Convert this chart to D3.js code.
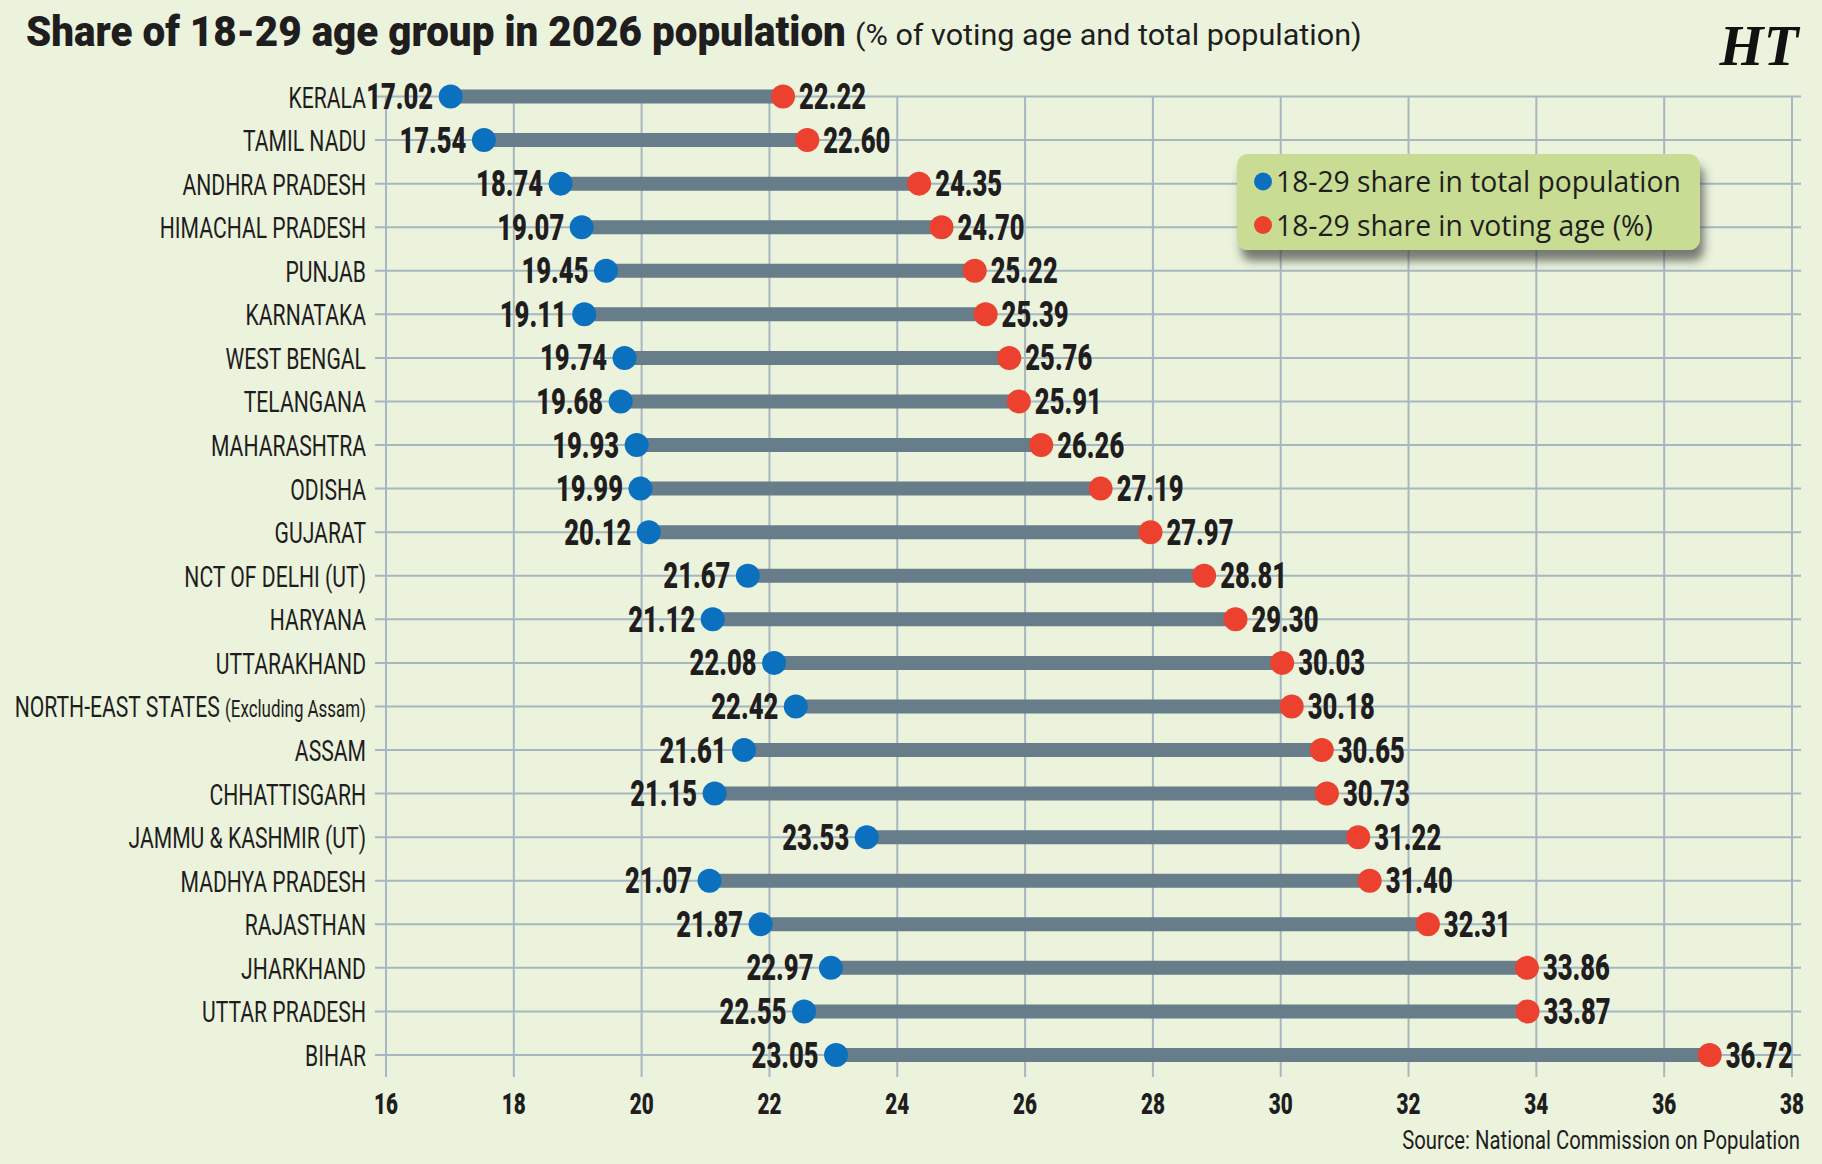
<!DOCTYPE html>
<html>
<head>
<meta charset="utf-8">
<script src="https://cdn.jsdelivr.net/npm/d3@7"></script>
<style>
  html, body { margin: 0; padding: 0; background: #ebf3dc; }
  svg { display: block; }
</style>
</head>
<body>
<svg id="chart"></svg>
<script>
// --- data ---
const states = [
    "KERALA", "TAMIL NADU", "ANDHRA PRADESH", "HIMACHAL PRADESH", "PUNJAB",
    "KARNATAKA", "WEST BENGAL", "TELANGANA", "MAHARASHTRA", "ODISHA",
    "GUJARAT", "NCT OF DELHI (UT)", "HARYANA", "UTTARAKHAND",
    "NORTH-EAST STATES (Excluding Assam)", "ASSAM", "CHHATTISGARH",
    "JAMMU & KASHMIR (UT)", "MADHYA PRADESH", "RAJASTHAN", "JHARKHAND",
    "UTTAR PRADESH", "BIHAR"
];
const totalShare = [17.02, 17.54, 18.74, 19.07, 19.45, 19.11, 19.74, 19.68, 19.93, 19.99,
    20.12, 21.67, 21.12, 22.08, 22.42, 21.61, 21.15, 23.53, 21.07, 21.87, 22.97, 22.55, 23.05];
const votingShare = [22.22, 22.60, 24.35, 24.70, 25.22, 25.39, 25.76, 25.91, 26.26, 27.19,
    27.97, 28.81, 29.30, 30.03, 30.18, 30.65, 30.73, 31.22, 31.40, 32.31, 33.86, 33.87, 36.72];
const xTicks = [16, 18, 20, 22, 24, 26, 28, 30, 32, 34, 36, 38];
const legendLabels = ["18-29 share in total population", "18-29 share in voting age (%)"];

const width = 1822;
const height = 1164;
const ink = "#1f1d1e";
const gridColor = "#a6b7c1";
const blue = "#0b71bf";
const red = "#ec412f";
const cond = "Roboto, 'Liberation Sans', sans-serif";

const svg = d3.select("#chart").attr("width", width).attr("height", height);

svg.append("rect").attr("width", width).attr("height", height).attr("fill", "#ebf3dc");

// measure a string so the condensed newspaper type can be approximated by squeezing
function textWidth(str, size, weight, family) {
    const t = svg.append("text")
        .attr("font-size", size)
        .attr("font-weight", weight)
        .attr("font-family", family)
        .text(str);
    const w = t.node().getComputedTextLength();
    t.remove();
    return w;
}

const x = d3.scaleLinear().domain([16, 38]).range([385.5, 1791.5]);
const y = d3.scalePoint().domain(states).range([96.5, 1055]);

const gridBottom = 1077;

// vertical grid + tick labels
const tickSq = 24 / textWidth("30", 29, 900, cond);
const xAxis = svg.append("g")
    .attr("transform", `translate(0,${gridBottom})`)
    .call(d3.axisBottom(x).tickValues(xTicks).tickSizeInner(-(gridBottom - y(states[0]))).tickSizeOuter(0));
xAxis.select(".domain").remove();
xAxis.selectAll("line").attr("stroke", gridColor).attr("stroke-width", 2);
xAxis.selectAll("text")
    .attr("fill", ink)
    .attr("font-family", cond)
    .attr("font-weight", 900)
    .attr("font-size", 29)
    .attr("dy", null)
    .attr("y", null)
    .attr("transform", `translate(0,36.5) scale(${tickSq},1)`);

// horizontal grid lines
svg.append("g").selectAll("line")
    .data(states)
    .join("line")
    .attr("x1", 375)
    .attr("x2", 1801)
    .attr("y1", d => y(d))
    .attr("y2", d => y(d))
    .attr("stroke", gridColor)
    .attr("stroke-width", 2);

// state labels
const stateSq = 77.5 / textWidth("KERALA", 30, 400, cond);
const labels = svg.append("g").selectAll("text")
    .data(states)
    .join("text")
    .attr("text-anchor", "end")
    .attr("font-family", cond)
    .attr("font-size", 30)
    .attr("fill", ink)
    .attr("transform", d => `translate(366,${y(d) + 11}) scale(${stateSq},1)`);
labels.each(function (d) {
    const m = d.match(/^(.*?) (\([A-Z][a-z].*\))$/);
    const t = d3.select(this);
    if (m) {
        t.append("tspan").text(m[1] + " ");
        t.append("tspan").attr("font-size", 24).text(m[2]);
    } else {
        t.text(d);
    }
});

const rows = states.map((s, i) => ({ state: s, total: totalShare[i], voting: votingShare[i] }));

// dumbbell bars
svg.append("g").selectAll("line")
    .data(rows)
    .join("line")
    .attr("x1", d => x(d.total))
    .attr("x2", d => x(d.voting))
    .attr("y1", d => y(d.state))
    .attr("y2", d => y(d.state))
    .attr("stroke", "#687d8a")
    .attr("stroke-width", 14);

const r = 12;
svg.append("g").selectAll("circle")
    .data(rows)
    .join("circle")
    .attr("cx", d => x(d.total))
    .attr("cy", d => y(d.state))
    .attr("r", r)
    .attr("fill", blue);

svg.append("g").selectAll("circle")
    .data(rows)
    .join("circle")
    .attr("cx", d => x(d.voting))
    .attr("cy", d => y(d.state))
    .attr("r", r)
    .attr("fill", red);

// value labels
const valSq = 67 / textWidth("36.72", 36, 900, cond);
svg.append("g").selectAll("text")
    .data(rows)
    .join("text")
    .attr("text-anchor", "end")
    .attr("font-family", cond)
    .attr("font-weight", 900)
    .attr("font-size", 36)
    .attr("fill", ink)
    .attr("transform", d => `translate(${x(d.total) - 17.5},${y(d.state) + 12.5}) scale(${valSq},1)`)
    .text(d => d.total.toFixed(2));

svg.append("g").selectAll("text")
    .data(rows)
    .join("text")
    .attr("text-anchor", "start")
    .attr("font-family", cond)
    .attr("font-weight", 900)
    .attr("font-size", 36)
    .attr("fill", ink)
    .attr("transform", d => `translate(${x(d.voting) + 16},${y(d.state) + 12.5}) scale(${valSq},1)`)
    .text(d => d.voting.toFixed(2));

// legend box with soft shadow
const defs = svg.append("defs");
const shadow = defs.append("filter").attr("id", "shadow")
    .attr("x", "-10%").attr("y", "-20%").attr("width", "130%").attr("height", "170%");
shadow.append("feDropShadow")
    .attr("dx", 4).attr("dy", 11).attr("stdDeviation", 5)
    .attr("flood-color", "#3a3a3a").attr("flood-opacity", 0.65);

svg.append("rect")
    .attr("x", 1237).attr("y", 154)
    .attr("width", 463).attr("height", 96)
    .attr("rx", 11)
    .attr("fill", "#c8dd93")
    .attr("filter", "url(#shadow)");

const legFont = "'Open Sans', 'Noto Sans', sans-serif";
const legSq = 405 / textWidth(legendLabels[0], 29, 500, legFont);
const legend = svg.append("g").selectAll("g")
    .data(legendLabels)
    .join("g")
    .attr("transform", (d, i) => `translate(1263,${181.5 + i * 43.5})`);
legend.append("circle").attr("r", 9).attr("fill", (d, i) => i === 0 ? blue : red);
legend.append("text")
    .attr("font-family", legFont)
    .attr("font-weight", 500)
    .attr("font-size", 29)
    .attr("fill", ink)
    .attr("transform", `translate(13,10.5) scale(${legSq},1)`)
    .text(d => d);

// title and subtitle
const title = "Share of 18-29 age group in 2026 population";
const titleSq = 820 / textWidth(title, 42, 900, cond);
svg.append("text")
    .attr("font-family", cond)
    .attr("font-weight", 900)
    .attr("font-size", 42)
    .attr("fill", ink)
    .attr("transform", `translate(26,46) scale(${titleSq},1)`)
    .text(title);

const subtitle = "(% of voting age and total population)";
const subSq = 507 / textWidth(subtitle, 29, 400, cond);
svg.append("text")
    .attr("font-family", cond)
    .attr("font-size", 29)
    .attr("fill", ink)
    .attr("transform", `translate(855,45) scale(${subSq},1)`)
    .text(subtitle);

// masthead mark
const htFont = "'Liberation Serif', 'DejaVu Serif', serif";
const htSq = 82 / textWidth("HT", 56, 700, htFont);
svg.append("text")
    .attr("font-family", htFont)
    .attr("font-weight", 700)
    .attr("font-style", "italic")
    .attr("font-size", 56)
    .attr("text-anchor", "middle")
    .attr("fill", "#111")
    .attr("transform", `translate(1759,65) scale(${htSq},1)`)
    .text("HT");

// source
const source = "Source: National Commission on Population";
const srcSq = 398 / textWidth(source, 25, 400, cond);
svg.append("text")
    .attr("font-family", cond)
    .attr("font-size", 25)
    .attr("text-anchor", "end")
    .attr("fill", ink)
    .attr("transform", `translate(1800,1149) scale(${srcSq},1)`)
    .text(source);
</script>
</body>
</html>
